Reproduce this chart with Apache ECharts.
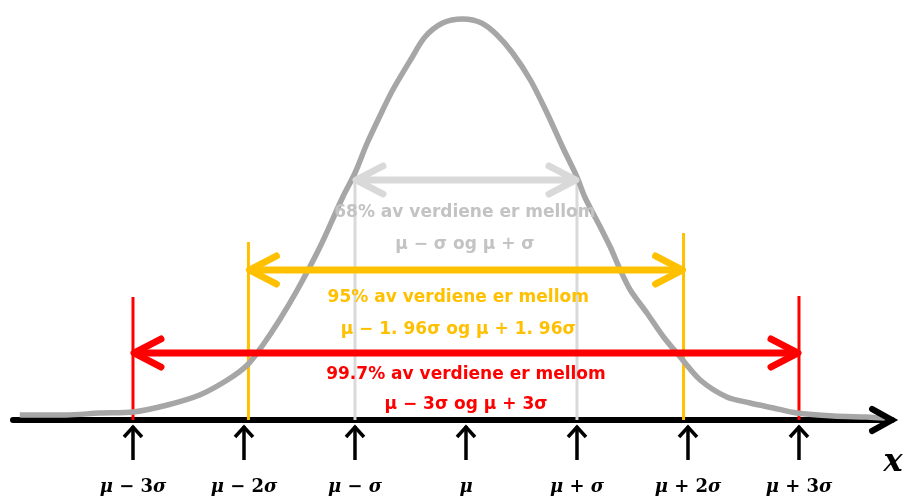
<!DOCTYPE html>
<html><head><meta charset="utf-8">
<script src="https://cdn.jsdelivr.net/npm/echarts@6/dist/echarts.min.js"></script>
<style>html,body{margin:0;padding:0;background:#fff}#c{width:904px;height:497px}</style>
</head><body><div id="c"></div>
<script>
// Bell curve (x in σ units from μ, y as density)
const curveX = [-4.02,-3.6,-3.3,-3.0,-2.69,-2.4,-2.15,-1.97,-1.83,-1.68,-1.52,-1.32,-1.11,-1.0,-0.89,-0.75,-0.66,-0.5,-0.37,-0.21,-0.03,0.14,0.28,0.42,0.58,0.73,0.87,1.0,1.07,1.21,1.3,1.39,1.48,1.63,1.78,1.93,2.11,2.35,2.56,2.77,2.98,3.31,3.61,3.78];
const curveY = [0.005,0.005,0.007,0.008,0.015,0.025,0.040,0.055,0.075,0.100,0.130,0.172,0.223,0.247,0.277,0.310,0.330,0.360,0.383,0.397,0.401,0.397,0.385,0.367,0.340,0.307,0.273,0.243,0.223,0.193,0.173,0.150,0.130,0.107,0.083,0.063,0.040,0.023,0.017,0.012,0.007,0.004,0.003,0.002];

// Axis ticks
const tickValues = [-3,-2,-1,0,1,2,3];
const tickLabels = ['μ − 3σ','μ − 2σ','μ − σ','μ','μ + σ','μ + 2σ','μ + 3σ'];
const axisName = 'x';

// Intervals
const intervalLow  = [-1,-1.96,-3];
const intervalHigh = [1,1.96,3];
const bracketTopLow  = [0.240,0.178,0.123];
const bracketTopHigh = [0.240,0.187,0.124];
const arrowLevel = [0.240,0.150,0.067];
const textLine1 = ['68% av verdiene er mellom','95% av verdiene er mellom','99.7% av verdiene er mellom'];
const textLine2 = ['μ − σ og μ + σ','μ − 1. 96σ og μ + 1. 96σ','μ − 3σ og μ + 3σ'];

// Layout / style (not data)
const lineColors = ['#d9d9d9','#ffc000','#ff0000'];
const textColors = ['#c3c3c3','#ffc000','#ff0000'];
const textCenterX = [-0.01,-0.07,0];
const textY1 = [0.207,0.122,0.045];
const textY2 = [0.175,0.090,0.015];

const chart = echarts.init(document.getElementById('c'), null, {renderer:'canvas'});

function chevronH(tipX, tipY, dir, color, w){
  return {type:'polyline', shape:{points:[[tipX - dir*27, tipY-14],[tipX, tipY],[tipX - dir*27, tipY+14]]},
    style:{stroke:color, lineWidth:w, fill:null, lineCap:'round', lineJoin:'round'}};
}

const option = {
  animation:false,
  backgroundColor:'#fff',
  grid:{left:13, right:12, top:10, bottom:77, outerBoundsMode:'none'},
  xAxis:{type:'value', min:-4.081, max:3.838, splitLine:{show:false},
    axisLine:{show:true, onZero:false, lineStyle:{color:'#000', width:6}},
    axisTick:{show:false}, axisLabel:{show:false}},
  yAxis:{type:'value', min:0, max:0.41, show:false, splitLine:{show:false}},
  series:[
    {
      type:'custom', z:2, clip:false,
      data: intervalLow.map((v,i)=>[v,i]),
      renderItem:function(params, api){
        const i = params.dataIndex;
        const col = lineColors[i];
        const lo0 = api.coord([intervalLow[i],0]);
        const loT = api.coord([intervalLow[i],bracketTopLow[i]]);
        const hi0 = api.coord([intervalHigh[i],0]);
        const hiT = api.coord([intervalHigh[i],bracketTopHigh[i]]);
        return {type:'group', children:[
          {type:'line', shape:{x1:loT[0],y1:loT[1],x2:lo0[0],y2:lo0[1]}, style:{stroke:col, lineWidth:3}},
          {type:'line', shape:{x1:hiT[0],y1:hiT[1],x2:hi0[0],y2:hi0[1]}, style:{stroke:col, lineWidth:3}},
        ]};
      }
    },
    {
      type:'line', z:3, showSymbol:false, smooth:0.3, clip:false,
      data: curveX.map((x,i)=>[x,curveY[i]]),
      lineStyle:{color:'#a6a6a6', width:5.5, join:'round'}
    },
    {
      type:'custom', z:4, clip:false,
      data: intervalLow.map((v,i)=>[v,i]),
      renderItem:function(params, api){
        const i = params.dataIndex;
        const col = lineColors[i];
        const aL = api.coord([intervalLow[i],arrowLevel[i]]);
        const aR = api.coord([intervalHigh[i],arrowLevel[i]]);
        const t1 = api.coord([textCenterX[i], textY1[i]]);
        const t2 = api.coord([textCenterX[i], textY2[i]]);
        const font = {fontFamily:'DejaVu Sans', fontWeight:'bold', fontSize:17};
        return {type:'group', children:[
          {type:'line', shape:{x1:aL[0]+2,y1:aL[1],x2:aR[0]-2,y2:aR[1]}, style:{stroke:col, lineWidth:7}},
          chevronH(aL[0]+1, aL[1], -1, col, 7),
          chevronH(aR[0]-1, aR[1], 1, col, 7),
          {type:'text', style:Object.assign({x:t1[0], y:t1[1], text:textLine1[i], fill:textColors[i], align:'center', verticalAlign:'middle'}, font)},
          {type:'text', style:Object.assign({x:t2[0], y:t2[1], text:textLine2[i], fill:textColors[i], align:'center', verticalAlign:'middle'}, font)}
        ]};
      }
    },
    {
      type:'custom', z:5, clip:false,
      data: tickValues.map((v,i)=>[v,i]),
      renderItem:function(params, api){
        const i = params.dataIndex;
        const p = api.coord([tickValues[i],0]);
        const rich = {g:{fontFamily:'DejaVu Serif', fontWeight:'bold', fontStyle:'italic', fontSize:18, fill:'#000'},
                      n:{fontFamily:'DejaVu Serif', fontWeight:'bold', fontSize:18, fill:'#000'}};
        const txt = tickLabels[i].split(/([μσ])/).filter(s=>s.length).map(s=>/[μσ]/.test(s)?'{g|'+s+'}':'{n|'+s+'}').join('');
        return {type:'group', children:[
          {type:'line', shape:{x1:p[0],y1:p[1]+6,x2:p[0],y2:p[1]+40}, style:{stroke:'#000', lineWidth:3.5}},
          {type:'polyline', shape:{points:[[p[0]-9,p[1]+17],[p[0],p[1]+7],[p[0]+9,p[1]+17]]}, style:{stroke:'#000', lineWidth:3.5, fill:null, lineJoin:'miter'}},
          {type:'text', style:{x:p[0], y:p[1]+67, text:txt, rich:rich, align:'center', verticalAlign:'middle'}}
        ]};
      }
    },
    {
      type:'custom', z:6, clip:false,
      data:[[3.838,0]],
      renderItem:function(params, api){
        const p = api.coord([3.838,0]);
        return {type:'group', children:[
          {type:'polyline', shape:{points:[[p[0]-20,p[1]-11],[p[0],p[1]],[p[0]-20,p[1]+11]]}, style:{stroke:'#000', lineWidth:6, fill:null, lineCap:'round', lineJoin:'miter'}},
          {type:'text', style:{x:p[0]+1, y:p[1]+43, text:axisName, fill:'#000', fontFamily:'DejaVu Serif', fontWeight:'bold', fontStyle:'italic', fontSize:32, align:'center', verticalAlign:'middle'}}
        ]};
      }
    }
  ]
};
chart.setOption(option);
</script>
</body></html>
